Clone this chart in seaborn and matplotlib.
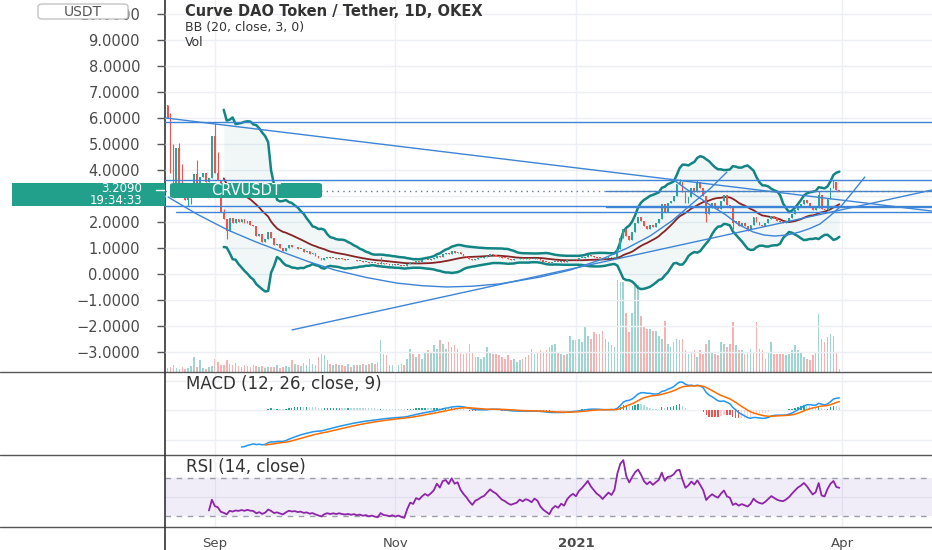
import numpy as np
import pandas as pd
import seaborn as sns
import matplotlib.pyplot as plt
from matplotlib.lines import Line2D
from matplotlib.patches import Rectangle, FancyBboxPatch

sns.set_theme(style="white")
plt.rcParams['font.family'] = ['DejaVu Sans']

# daily CRV/USDT candles (OKEX), first candle on 2020-08-16
first_day = "2020-08-16"
first_open = 6.5
closes = [
    6.0, 3.9, 3.5, 4.85, 3.5, 3.1, 2.85, 2.95, 3.35, 3.85,
    3.5, 3.75, 3.9, 3.55, 3.7, 5.3, 3.9, 3.6, 2.4, 2.1,
    1.65, 2.15, 1.95, 2.1, 2.0, 2.1, 1.95, 2.05, 1.9, 1.85,
    1.45, 1.55, 1.25, 1.35, 1.6, 1.4, 1.1, 1.15, 1.0, 0.88,
    1.0, 1.1, 1.02, 1.04, 0.95, 0.97, 0.86, 0.88, 0.78, 0.8,
    0.7, 0.62, 0.55, 0.62, 0.65, 0.6, 0.62, 0.58, 0.6, 0.56,
    0.54, 0.55, 0.52, 0.53, 0.49, 0.5, 0.46, 0.47, 0.43, 0.44,
    0.41, 0.39, 0.44, 0.39, 0.38, 0.36, 0.37, 0.34, 0.35, 0.32,
    0.3, 0.38, 0.45, 0.43, 0.5, 0.48, 0.52, 0.55, 0.53, 0.56,
    0.6, 0.7, 0.66, 0.78, 0.8, 0.76, 0.88, 0.82, 0.85, 0.76,
    0.7, 0.65, 0.58, 0.52, 0.58, 0.6, 0.63, 0.65, 0.7, 0.75,
    0.72, 0.7, 0.66, 0.62, 0.6, 0.57, 0.55, 0.56, 0.57, 0.6,
    0.58, 0.6, 0.59, 0.57, 0.6, 0.58, 0.52, 0.48, 0.45, 0.42,
    0.46, 0.48, 0.46, 0.49, 0.47, 0.52, 0.55, 0.57, 0.55, 0.6,
    0.63, 0.67, 0.72, 0.68, 0.65, 0.62, 0.6, 0.57, 0.6, 0.63,
    0.61, 0.66, 0.95, 1.4, 1.75, 1.45, 1.3, 1.6, 1.95, 2.2,
    2.05, 1.85, 1.75, 1.9, 1.8, 1.95, 2.1, 2.7, 2.4, 2.75,
    2.8, 3.0, 3.45, 3.55, 3.15, 2.75, 2.95, 3.3, 3.15, 3.55,
    3.3, 3.0, 2.3, 2.55, 2.75, 2.6, 2.5, 2.8, 3.05, 2.65,
    2.55, 1.95, 2.05, 1.85, 1.95, 1.85, 1.75, 1.9, 2.2, 2.0,
    1.9, 1.85, 1.95, 2.1, 2.25, 2.15, 2.05, 2.0, 1.98, 2.05,
    2.15, 2.3, 2.45, 2.6, 2.7, 2.85, 2.75, 2.6, 2.45, 2.55,
    3.05, 2.5, 2.45, 2.9, 3.3, 3.55, 3.25, 3.209,
]
# visible wicks (day index -> price), other candles have no wick
wick_high = {0: 6.5, 1: 6.2, 2: 5.0, 4: 5.05, 5: 4.25, 6: 3.5, 10: 4.4, 16: 5.8,
             17: 4.7, 19: 2.5, 72: 0.65, 173: 3.65, 179: 3.62, 220: 3.2, 225: 3.62}
wick_low = {7: 2.6, 8: 2.7, 20: 1.35, 182: 2.0, 191: 1.75, 196: 1.66}
volumes = [
    12, 15, 20, 12, 10, 14, 10, 12, 18, 45, 14, 35, 12, 10, 15, 18,
    38, 30, 22, 20, 35, 25, 20, 28, 18, 15, 20, 18, 14, 22, 18, 15, 18, 12, 16, 15,
    14, 20, 12, 15, 18, 14,
    35, 25, 20, 18, 28, 22, 40, 25, 20, 45, 55, 50, 35, 25, 22, 25, 20, 22, 18, 25,
    15, 20, 22, 20, 25, 22, 25, 28, 25, 30,
    97, 55, 50, 22, 20, 25, 20, 25, 20, 40,
    70, 55, 45, 55, 40, 60, 65, 60, 80, 70, 95, 85, 70, 90, 75, 80, 70, 60, 55, 60,
    85, 60, 45, 45, 40, 45, 75, 60, 55, 55, 50, 45, 40, 50, 35, 40,
    30, 35, 40, 45, 50, 70, 55, 60, 65, 60, 65, 75, 80, 85, 60, 55, 50, 55,
    110, 95, 95, 100, 90, 135, 110, 100, 120, 115, 115, 125, 100, 90, 80, 75,
    277, 270, 272, 178, 120, 178, 265, 262,
    170, 135, 130, 130, 125, 125, 110, 100, 155, 85, 75, 90, 100, 95, 100, 65,
    55, 60, 65, 45, 65, 55,
    85, 95, 60, 55, 50, 90, 85, 75, 85, 150, 80, 65, 65, 55, 60, 70, 60, 150, 70, 65,
    40, 60, 90, 55,
    55, 55, 55, 50, 55, 65, 80, 65, 60, 45, 40, 35, 50, 60, 175, 100, 90, 105, 115, 110,
    60, 10,
]

# hand drawn lines (day index from first_day, price)
flat_levels = [5.85, 3.60, 2.63, 2.37, 3.20, 2.56]
flat_starts = [-1, -1, -1, 3, 148, 148]
ray_days = [(-0.5, 258.3), (42.1, 258.3)]
ray_prices = [(6.0, 2.42), (-2.15, 3.23)]
big_arc_days = [0.2, 10.0, 20.4, 29.5, 38.7, 47.5, 56.6, 67.0, 77.5, 86.0, 94.4, 103.0,
                112.3, 125.8, 136.0, 146.1, 155.0, 163.0, 170.5, 177.5, 183.5, 189.0]
big_arc_prices = [2.96, 2.30, 1.69, 1.25, 0.85, 0.48, 0.15, -0.13, -0.35, -0.45, -0.50, -0.47,
                  -0.38, -0.12, 0.15, 0.54, 0.98, 1.46, 2.05, 2.73, 3.30, 3.92]
small_arc_days = [171.5, 175.5, 179.9, 184.0, 188.3, 193.0, 197.8, 201.5, 205.2, 209.5,
                  213.7, 217.0, 220.4, 224.0, 227.9, 231.5, 235.6]
small_arc_prices = [3.58, 3.25, 2.92, 2.60, 2.30, 1.90, 1.62, 1.50, 1.46, 1.50,
                    1.62, 1.75, 1.92, 2.25, 2.65, 3.15, 3.73]

last_price = 3.209
price_ticks = list(range(-3, 11))
month_ticks = ["2020-09-01", "2020-11-01", "2021-01-01", "2021-04-01"]
month_labels = ["Sep", "Nov", "2021", "Apr"]

UP, DOWN = '#26a69a', '#ef5350'
DRAW = '#3d84d6'
TXT = '#4a4a4a'
W, H = 932, 550

day0 = pd.Timestamp(first_day)
n = len(closes)
dates = pd.date_range(day0, periods=n, freq='D')


def to_date(d):
    return day0 + pd.to_timedelta(d, unit='D')


def seeded_ma(values, length, alpha):
    # moving average seeded with a simple mean, as the charting site does for ema / rma
    x = np.asarray(values, dtype=float)
    out = np.full(len(x), np.nan)
    first = np.flatnonzero(~np.isnan(x))[0]
    s = first + length - 1
    out[s] = x[first:s + 1].mean()
    for t in range(s + 1, len(x)):
        out[t] = alpha * x[t] + (1 - alpha) * out[t - 1]
    return out


df = pd.DataFrame({'date': dates, 'close': closes, 'volume': volumes})
df['open'] = [first_open] + closes[:-1]
df['high'] = df[['open', 'close']].max(axis=1)
df['low'] = df[['open', 'close']].min(axis=1)
for k, v in wick_high.items():
    df.loc[k, 'high'] = v
for k, v in wick_low.items():
    df.loc[k, 'low'] = v
colors = np.where(df['close'] >= df['open'], UP, DOWN)

# Bollinger bands 20, 3
mid = df['close'].rolling(20).mean()
dev = df['close'].rolling(20).std(ddof=0)
df['bb_mid'] = mid
df['bb_up'] = mid + 3 * dev
df['bb_lo'] = mid - 3 * dev

# MACD 12 26 9
macd = seeded_ma(closes, 12, 2 / 13) - seeded_ma(closes, 26, 2 / 27)
signal = seeded_ma(macd, 9, 2 / 10)
hist = pd.Series(macd - signal)
df['macd'] = macd
df['signal'] = signal
prev = hist.shift(1)
hist_colors = np.where(hist >= 0, np.where(hist >= prev, '#26a69a', '#b2dfdb'),
                       np.where(hist < prev, '#ef5350', '#ffcdd2'))

# RSI 14
delta = df['close'].diff()
gain = seeded_ma(delta.clip(lower=0), 14, 1 / 14)
loss = seeded_ma(-delta.clip(upper=0), 14, 1 / 14)
df['rsi'] = 100 - 100 / (1 + gain / loss)

fig = plt.figure(figsize=(W / 100, H / 100), dpi=100)
fig.patch.set_facecolor('white')
ax = fig.add_axes([165 / W, 1 - 372 / H, 767 / W, 372 / H])
axm = fig.add_axes([165 / W, 1 - 455 / H, 767 / W, 83 / H], sharex=ax)
axr = fig.add_axes([165 / W, 1 - 527 / H, 767 / W, 72 / H], sharex=ax)
axv = ax.twinx()
ax.set_zorder(2)
axv.set_zorder(1)
ax.patch.set_visible(False)

# volume
axv.bar(dates, df['volume'], width=0.55, color=colors, alpha=0.45, lw=0)
axv.set_ylim(0, max(volumes) / 0.247)
axv.set_yticks([])

# bands
ax.fill_between(dates, df['bb_lo'], df['bb_up'], color='#198787', alpha=0.06, lw=0, zorder=1)
sns.lineplot(data=df, x='date', y='bb_up', ax=ax, color='#138484', lw=1.8, zorder=2, legend=False)
sns.lineplot(data=df, x='date', y='bb_lo', ax=ax, color='#138484', lw=1.8, zorder=2, legend=False)
sns.lineplot(data=df, x='date', y='bb_mid', ax=ax, color='#872323', lw=1.3, zorder=2, legend=False)

# candles
body_lo = df[['open', 'close']].min(axis=1)
body_h = (df['close'] - df['open']).abs().clip(lower=0.035)
ax.vlines(dates, df['low'], df['high'], colors=colors, lw=0.8, zorder=3)
ax.bar(dates, body_h, bottom=body_lo, width=0.62, color=colors, lw=0, zorder=4)

# drawings
x_right = to_date(258.3)
for lvl, st in zip(flat_levels, flat_starts):
    ax.plot([to_date(st), x_right], [lvl, lvl], color=DRAW, lw=1, zorder=5)
for d, p in zip(ray_days, ray_prices):
    ax.plot([to_date(d[0]), to_date(d[1])], list(p), color=DRAW, lw=1, zorder=5)
ax.plot([to_date(d) for d in big_arc_days], big_arc_prices, color=DRAW, lw=1, zorder=5)
ax.plot([to_date(d) for d in small_arc_days], small_arc_prices, color=DRAW, lw=1, zorder=5)
ax.axhline(last_price, color='#6b7b8c', ls=(0, (1, 3)), lw=1, zorder=5)

ax.set_ylim(-3.77, 10.54)
ax.set_xlim(to_date(-0.85), to_date(258.3))
ax.set_yticks(price_ticks)
# the 3.0000 label sits under the last price tag
ax.set_yticklabels(["" if v == 3 else f"{v:.4f}".replace("-", "\u2212") for v in price_ticks])
ax.set_xticks(pd.to_datetime(month_ticks))

# MACD panel
axm.bar(dates, hist, width=0.45, color=hist_colors, lw=0)
sns.lineplot(data=df, x='date', y='macd', ax=axm, color='#2196f3', lw=1.1, legend=False)
sns.lineplot(data=df, x='date', y='signal', ax=axm, color='#ff6d00', lw=1.1, legend=False)
lo = np.nanmin([df['macd'].min(), df['signal'].min()])
hi = np.nanmax([df['macd'].max(), df['signal'].max()])
span = hi - lo
axm.set_ylim(lo - span * 8 / 65, hi + span * 10 / 65)
axm.yaxis.set_major_locator(plt.MaxNLocator(3))

# RSI panel
axr.axhspan(30, 70, color='#7e57c2', alpha=0.1, lw=0)
axr.axhline(70, color='#9a9ea8', ls=(0, (4, 4)), lw=1)
axr.axhline(30, color='#9a9ea8', ls=(0, (4, 4)), lw=1)
sns.lineplot(data=df, x='date', y='rsi', ax=axr, color='#8e24aa', lw=1.3, legend=False)
axr.set_ylim(18.4, 94.2)
axr.set_yticks([50])
axr.set_xticks(pd.to_datetime(month_ticks))
axr.set_xticklabels(month_labels)
axr.get_xticklabels()[2].set_fontweight('bold')

for a in (ax, axm, axr, axv):
    for sp in a.spines.values():
        sp.set_visible(False)
    a.set_xlabel('')
    a.set_ylabel('')
for a in (ax, axm, axr):
    a.grid(True, color='#eceff3', lw=1)
    a.set_axisbelow(True)

ax.tick_params(axis='y', left=True, length=6, width=1, color='#555555', pad=12,
               labelsize=10.5, labelcolor=TXT)
ax.tick_params(axis='x', bottom=False, labelbottom=False)
axm.tick_params(left=False, labelleft=False, bottom=False, labelbottom=False)
axr.tick_params(axis='y', left=False, labelleft=False)
axr.tick_params(axis='x', bottom=False, labelsize=9.5, labelcolor=TXT, pad=1)

# frame lines
for py in (372, 455, 527):
    fig.add_artist(Line2D([0, 1], [1 - py / H] * 2, color='#555555', lw=1, transform=fig.transFigure))
fig.add_artist(Line2D([165 / W] * 2, [0, 1], color='#333333', lw=1.2, transform=fig.transFigure))

# legends of the panes
fig.text(185 / W, 1 - 11 / H, "Curve DAO Token / Tether, 1D, OKEX", fontsize=10.5,
         fontweight='bold', color='#333333', va='center')
fig.text(185 / W, 1 - 27 / H, "BB (20, close, 3, 0)", fontsize=9, color='#333333', va='center')
fig.text(185 / W, 1 - 42 / H, "Vol", fontsize=9, color='#333333', va='center')
fig.text(186 / W, 1 - 384 / H, "MACD (12, 26, close, 9)", fontsize=12, color='#333333', va='center')
fig.text(186 / W, 1 - 467 / H, "RSI (14, close)", fontsize=12, color='#333333', va='center')

# currency box
fig.add_artist(FancyBboxPatch((38 / W, 1 - 19 / H), 90 / W, 15 / H,
                              boxstyle='round,pad=0,rounding_size=0.005',
                              transform=fig.transFigure, fc='white', ec='#c4c4c4', lw=1, zorder=5))
fig.text(83 / W, 1 - 11.5 / H, "USDT", fontsize=10, color='#555555', ha='center', va='center', zorder=6)

# last price tags
tag = '#22a08c'
fig.add_artist(Rectangle((12 / W, 1 - 206 / H), 153 / W, 23 / H, transform=fig.transFigure,
                         fc=tag, ec='none', zorder=5))
fig.add_artist(Line2D([156 / W, 164 / W], [1 - 190 / H] * 2, color='white', lw=1,
                      transform=fig.transFigure, zorder=6))
fig.text(142 / W, 1 - 189 / H, f"{last_price:.4f}", fontsize=8.5, color='white', ha='right',
         va='center', zorder=6)
fig.text(142 / W, 1 - 200.5 / H, "19:34:33", fontsize=8.5, color='white', ha='right',
         va='center', zorder=6)
fig.add_artist(FancyBboxPatch((170 / W, 1 - 198 / H), 152 / W, 15 / H,
                              boxstyle='round,pad=0,rounding_size=0.004',
                              transform=fig.transFigure, fc=tag, ec='none', zorder=5))
fig.text(246 / W, 1 - 190.5 / H, "CRVUSDT", fontsize=10.5, color='white', ha='center',
         va='center', zorder=6)

fig.savefig('out.png', dpi=100)
